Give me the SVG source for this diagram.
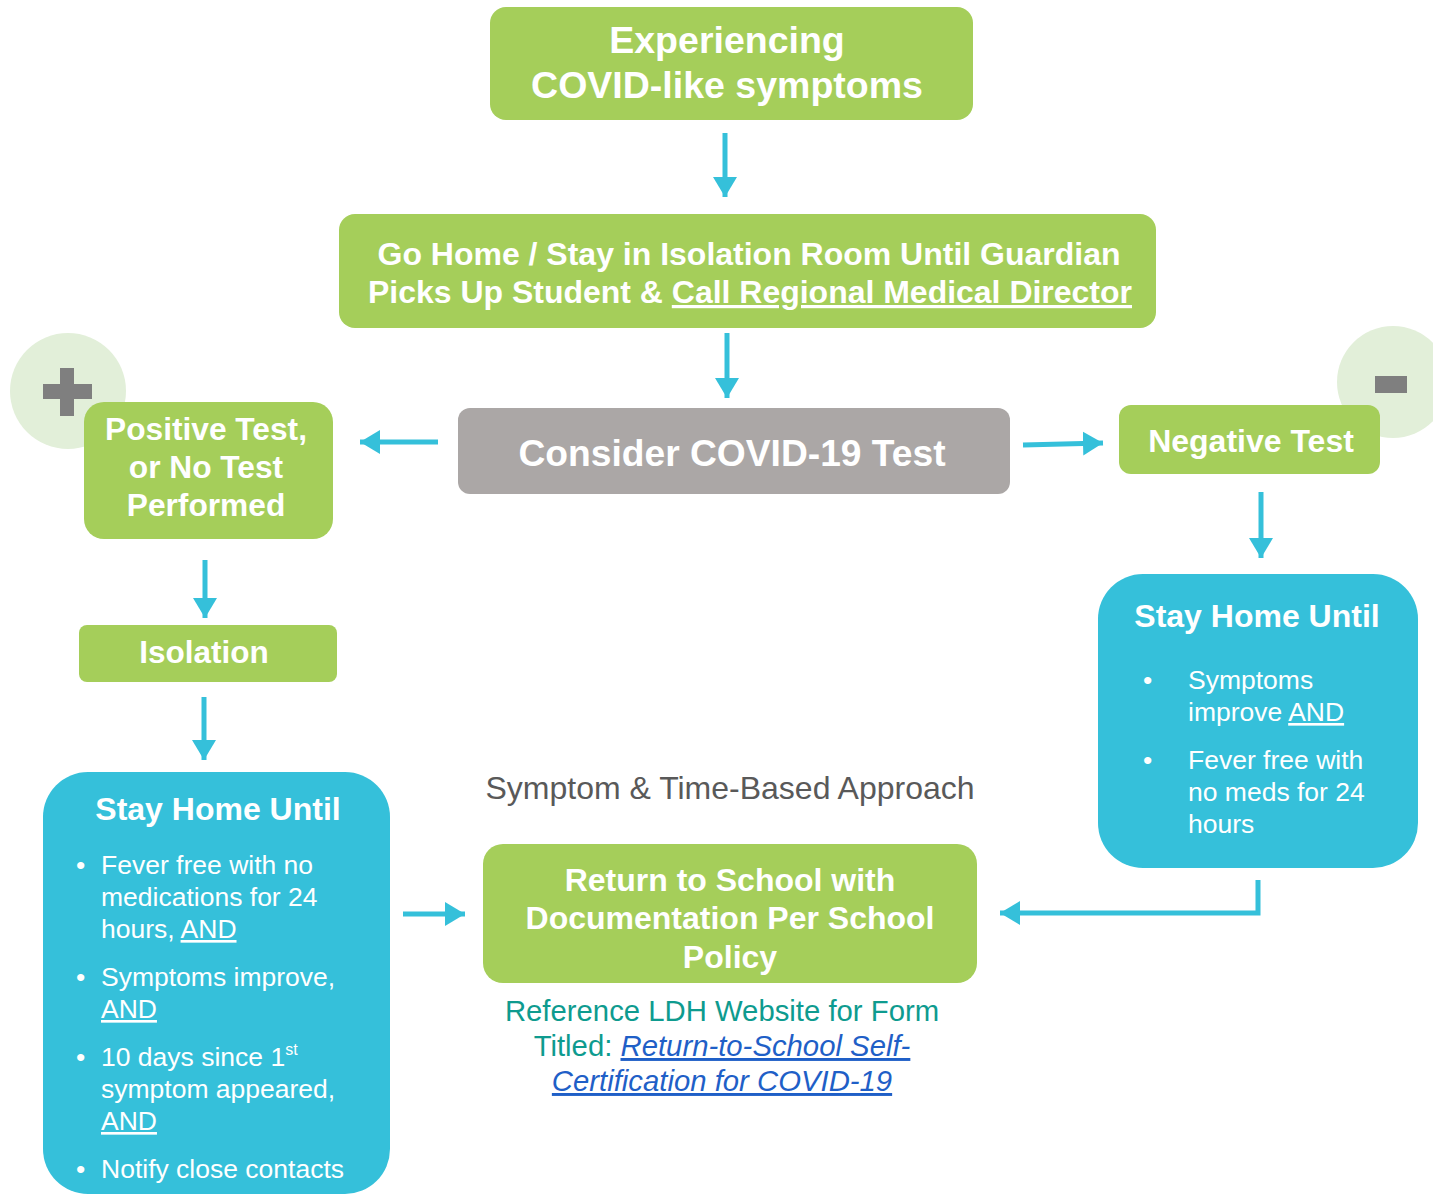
<svg xmlns="http://www.w3.org/2000/svg" width="1433" height="1195" viewBox="0 0 1433 1195">
<defs>
<style>
.g{fill:#A5CE5A}
.b{fill:#35C0DA}
.t{font-family:"Liberation Sans",Arial,sans-serif;fill:#fff;text-anchor:middle;font-weight:bold}
.s{font-family:"Liberation Sans",Arial,sans-serif;fill:#fff;font-size:26.5px}
.c{stroke:#35C0DA;stroke-width:5;fill:none}
</style>
<marker id="ah" markerUnits="userSpaceOnUse" markerWidth="24" markerHeight="26" refX="20" refY="13" orient="auto">
<path d="M0,1 L20,13 L0,25 Z" fill="#35C0DA"/>
</marker>
</defs>
<rect width="1433" height="1195" fill="#fff"/>

<g id="connectors">
<line class="c" x1="725" y1="133" x2="725" y2="197" marker-end="url(#ah)"/>
<line class="c" x1="727" y1="333" x2="727" y2="398" marker-end="url(#ah)"/>
<line class="c" x1="438" y1="442" x2="360" y2="442" marker-end="url(#ah)"/>
<line class="c" x1="1023" y1="445" x2="1103" y2="443" marker-end="url(#ah)"/>
<line class="c" x1="1261" y1="492" x2="1261" y2="558" marker-end="url(#ah)"/>
<line class="c" x1="205" y1="560" x2="205" y2="618" marker-end="url(#ah)"/>
<line class="c" x1="204" y1="697" x2="204" y2="760" marker-end="url(#ah)"/>
<line class="c" x1="403" y1="914" x2="465" y2="914" marker-end="url(#ah)"/>
<polyline class="c" points="1258,880 1258,913 1000,913" marker-end="url(#ah)"/>
</g>

<g id="plus-badge">
<circle cx="68" cy="391" r="58" fill="#E2EFD9"/>
<rect x="43" y="384" width="49" height="15" fill="#7F7F7F"/>
<rect x="60" y="368" width="14" height="48" fill="#7F7F7F"/>
</g>
<g id="minus-badge">
<circle cx="1393" cy="382" r="56" fill="#E2EFD9"/>
<rect x="1375" y="376" width="32" height="17" fill="#7F7F7F"/>
</g>

<g id="n-symptoms">
<rect class="g" x="490" y="7" width="483" height="113" rx="16"/>
<text class="t" font-size="37.5" x="727" y="53">Experiencing</text>
<text class="t" font-size="37.5" x="727" y="98">COVID-like symptoms</text>
</g>

<g id="n-gohome">
<rect class="g" x="339" y="214" width="817" height="114" rx="16"/>
<text class="t" font-size="32" x="749" y="265" textLength="743" lengthAdjust="spacingAndGlyphs">Go Home / Stay in Isolation Room Until Guardian</text>
<text class="t" font-size="32" x="750" y="303" textLength="764" lengthAdjust="spacingAndGlyphs">Picks Up Student &amp; <tspan text-decoration="underline">Call Regional Medical Director</tspan></text>
</g>

<g id="n-consider">
<rect x="458" y="408" width="552" height="86" rx="12" fill="#ABA7A6"/>
<text class="t" font-size="37.2" x="732" y="466">Consider COVID-19 Test</text>
</g>

<g id="n-positive">
<rect class="g" x="84" y="402" width="249" height="137" rx="20"/>
<text class="t" font-size="31.7" x="206" y="440">Positive Test,</text>
<text class="t" font-size="31.7" x="206" y="478">or No Test</text>
<text class="t" font-size="31.7" x="206" y="516">Performed</text>
</g>

<g id="n-negative">
<rect class="g" x="1119" y="405" width="261" height="69" rx="12"/>
<text class="t" font-size="32" x="1251" y="452">Negative Test</text>
</g>

<g id="n-isolation">
<rect class="g" x="79" y="625" width="258" height="57" rx="8"/>
<text class="t" font-size="31.5" x="204" y="663">Isolation</text>
</g>

<g id="n-stayhome-left">
<rect class="b" x="43" y="772" width="347" height="422" rx="45"/>
<text class="t" font-size="32" x="218" y="820">Stay Home Until</text>
<g class="s">
<text x="76" y="874">•</text>
<text x="101" y="874">Fever free with no</text>
<text x="101" y="906">medications for 24</text>
<text x="101" y="938">hours, <tspan text-decoration="underline">AND</tspan></text>
<text x="76" y="986">•</text>
<text x="101" y="986">Symptoms improve,</text>
<text x="101" y="1018" text-decoration="underline">AND</text>
<text x="76" y="1066">•</text>
<text x="101" y="1066">10 days since 1<tspan font-size="16" dy="-11">st</tspan></text>
<text x="101" y="1098">symptom appeared,</text>
<text x="101" y="1130" text-decoration="underline">AND</text>
<text x="76" y="1178">•</text>
<text x="101" y="1178">Notify close contacts</text>
</g>
</g>

<g id="n-stayhome-right">
<rect class="b" x="1098" y="574" width="320" height="294" rx="45"/>
<text class="t" font-size="32" x="1257" y="627">Stay Home Until</text>
<g class="s">
<text x="1143" y="689">•</text>
<text x="1188" y="689">Symptoms</text>
<text x="1188" y="721">improve <tspan text-decoration="underline">AND</tspan></text>
<text x="1143" y="769">•</text>
<text x="1188" y="769">Fever free with</text>
<text x="1188" y="801">no meds for 24</text>
<text x="1188" y="833">hours</text>
</g>
</g>

<g id="label-approach">
<text x="730" y="799" font-family="Liberation Sans,Arial,sans-serif" font-size="32" fill="#595959" text-anchor="middle">Symptom &amp; Time-Based Approach</text>
</g>

<g id="n-return">
<rect class="g" x="483" y="844" width="494" height="139" rx="20"/>
<text class="t" font-size="32" x="730" y="891">Return to School with</text>
<text class="t" font-size="32" x="730" y="929">Documentation Per School</text>
<text class="t" font-size="32" x="730" y="968">Policy</text>
</g>

<g id="label-reference" font-family="Liberation Sans,Arial,sans-serif" font-size="29.3" text-anchor="middle">
<text x="722" y="1021" fill="#0E9B8F">Reference LDH Website for Form</text>
<text x="722" y="1056" fill="#0E9B8F">Titled: <tspan fill="#1F5FC7" font-style="italic" text-decoration="underline">Return-to-School Self-</tspan></text>
<text x="722" y="1091" fill="#1F5FC7" font-style="italic" text-decoration="underline">Certification for COVID-19</text>
</g>
</svg>
